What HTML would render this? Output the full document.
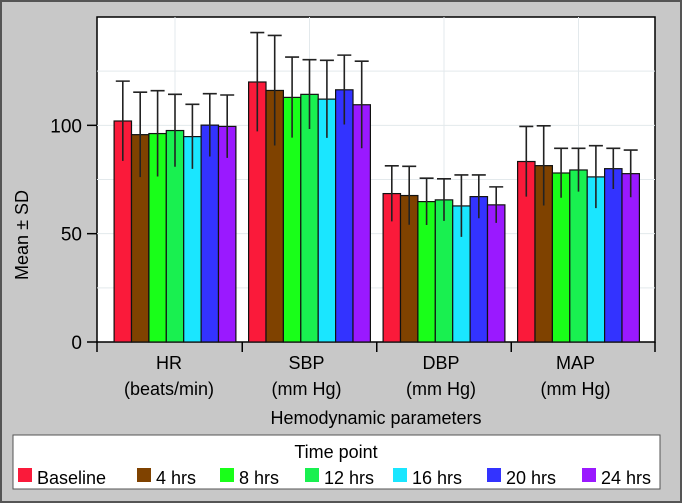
<!DOCTYPE html>
<html><head><meta charset="utf-8"><style>
html,body{margin:0;padding:0;background:#c8c8c8}
svg{display:block;font-family:"Liberation Sans",Arial,sans-serif}
</style></head><body>
<svg id="chart" width="682" height="503" viewBox="0 0 682 503" xmlns="http://www.w3.org/2000/svg">
<rect x="1" y="1" width="680" height="501" fill="#c8c8c8" stroke="#555" stroke-width="2"/>
<rect x="97" y="17" width="558" height="325" fill="#fff" stroke="#000" stroke-width="1.5"/>
<g id="grid"></g>
<g id="bars"></g>
<g id="axes"></g>
<text x="28" y="235" font-size="18" text-anchor="middle" transform="rotate(-90 28 235)">Mean ± SD</text>
<text x="376" y="424" font-size="18" text-anchor="middle">Hemodynamic parameters</text>
<rect x="13" y="435" width="647" height="54" fill="#fff" stroke="#555" stroke-width="1"/>
<text x="336" y="458" font-size="18" text-anchor="middle">Time point</text>
<g id="legend"></g>
</svg>
<script>
const categories = ["HR|(beats/min)","SBP|(mm Hg)","DBP|(mm Hg)","MAP|(mm Hg)"];
const series = ["Baseline","4 hrs","8 hrs","12 hrs","16 hrs","20 hrs","24 hrs"];
const colors = ["#fa1a3a","#7f4200","#19ff19","#19f050","#1ae6ff","#3333ff","#9a19ff"];
const meanBaseline = [102, 120, 68.5, 83.3];
const mean4 = [95.7, 116.1, 67.6, 81.4];
const mean8 = [96.2, 112.9, 64.8, 78];
const mean12 = [97.6, 114.3, 65.6, 79.4];
const mean16 = [94.8, 112.1, 62.8, 76.2];
const mean20 = [100.1, 116.4, 67.1, 80];
const mean24 = [99.5, 109.5, 63.3, 77.7];
const sdBaseline = [18.4, 22.8, 12.8, 16.2];
const sd4 = [19.6, 25.4, 13.5, 18.4];
const sd8 = [19.8, 18.6, 10.8, 11.4];
const sd12 = [16.7, 16, 9.7, 10];
const sd16 = [14.9, 17.9, 14.3, 14.4];
const sd20 = [14.5, 16, 10, 9.4];
const sd24 = [14.5, 20.1, 8.3, 10.9];
const yTicks = [0, 50, 100];
const yGrid = [25, 75, 125];
const means = [meanBaseline, mean4, mean8, mean12, mean16, mean20, mean24];
const sds = [sdBaseline, sd4, sd8, sd12, sd16, sd20, sd24];

const NS = "http://www.w3.org/2000/svg";
const plotL = 97, plotR = 655, plotT = 17, plotB = 342, yMax = 150;
const y = v => plotB - v / yMax * (plotB - plotT);
const bandStep = 134.5, firstCenter = 175;
const xc = i => firstCenter + bandStep * i;
const barW = 17.4;
function mk(tag, attrs, parent) {
  const e = document.createElementNS(NS, tag);
  for (const k in attrs) e.setAttribute(k, attrs[k]);
  parent.appendChild(e);
  return e;
}
const grid = document.getElementById("grid");
const bars = document.getElementById("bars");
const axes = document.getElementById("axes");
const legend = document.getElementById("legend");

[...yGrid, ...yTicks.filter(t => t > 0)].forEach(v => {
  const l = mk("line", {x1: plotL, x2: plotR, y1: y(v), y2: y(v), stroke: "#e3e9ec", "stroke-width": 1}, grid);
  
  
});
categories.forEach((c, i) => {
  const l = mk("line", {x1: xc(i), x2: xc(i), y1: plotT, y2: plotB, stroke: "#e3e9ec", "stroke-width": 1}, grid);
  
  
});

categories.forEach((c, ci) => {
  const start = xc(ci) - barW * series.length / 2;
  series.forEach((s, si) => {
    const m = means[si][ci], sd = sds[si][ci];
    const x0 = start + si * barW;
    const r = mk("rect", {x: x0, y: y(m), width: barW, height: y(0) - y(m), fill: colors[si], stroke: "#111", "stroke-width": 1.2}, bars);
    
    
    const cx = x0 + barW / 2;
    const e = mk("path", {d: `M${cx},${y(m - sd)}V${y(m + sd)}M${cx - 7},${y(m + sd)}H${cx + 7}`, stroke: "#222", "stroke-width": 1.6, fill: "none"}, bars);
    
    
  });
});

yTicks.forEach(v => {
  const t = mk("line", {x1: 87, x2: 97, y1: y(v), y2: y(v), stroke: "#000", "stroke-width": 1.5}, axes);
  
  
  const tx = mk("text", {x: 82, y: y(v) + 7, "font-size": 19, "text-anchor": "end"}, axes);
  tx.textContent = v;
  
  
});
const bounds = [plotL];
for (let i = 0; i < categories.length - 1; i++) bounds.push((xc(i) + xc(i + 1)) / 2);
bounds.push(plotR);
bounds.forEach(bx => {
  const t = mk("line", {x1: bx, x2: bx, y1: plotB, y2: plotB + 10, stroke: "#000", "stroke-width": 1.5}, axes);
  
  
});
categories.forEach((c, i) => {
  const parts = c.split("|");
  parts.forEach((p, k) => {
    const tx = mk("text", {x: xc(i) - 3 + (i === 0 ? -3 : 0), y: 369 + k * 26, "font-size": 18, "text-anchor": "middle"}, axes);
    tx.textContent = p;
    
    
  });
});

const legX = [18, 137, 220, 305, 393, 487, 582];
series.forEach((s, i) => {
  const sq = mk("rect", {x: legX[i], y: 468, width: 14, height: 14, fill: colors[i]}, legend);
  
  
  const tx = mk("text", {x: legX[i] + 19, y: 484, "font-size": 18}, legend);
  tx.textContent = s;
  
  
});
</script>
</body></html>
